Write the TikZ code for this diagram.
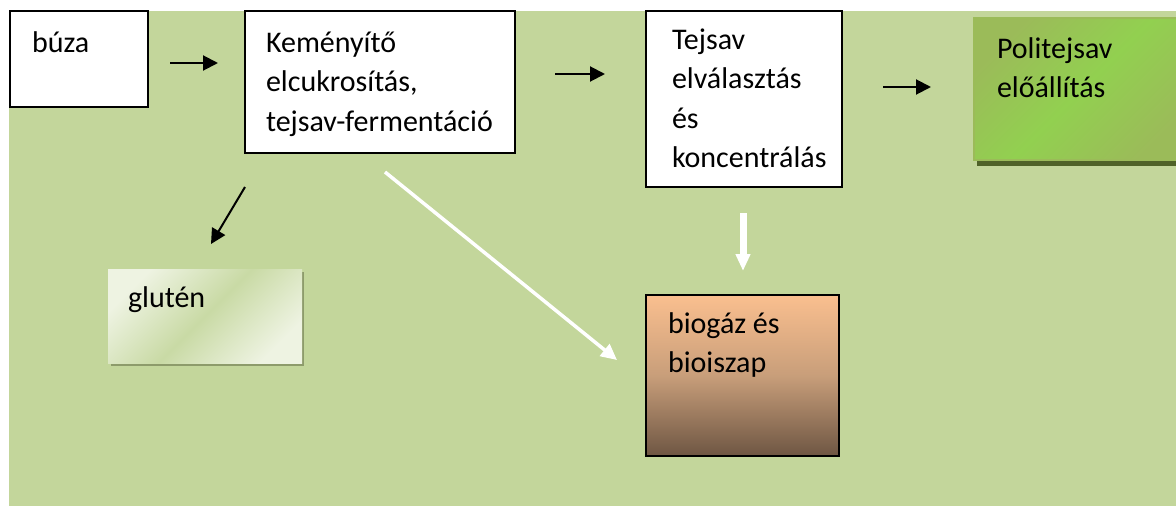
\documentclass[tikz,border=0pt]{standalone}
\usepackage{fontspec}
\setmainfont{Carlito}
\usetikzlibrary{arrows.meta}
\definecolor{bg}{HTML}{C3D69B}
\definecolor{olivec}{HTML}{9BBB59}
\definecolor{brightg}{HTML}{92D050}
\definecolor{shadowdark}{HTML}{4F6228}
\definecolor{gshadow}{HTML}{8D9B6B}
\definecolor{glutlight}{HTML}{EEF3E2}
\definecolor{glutmid}{HTML}{C9DAA5}
\definecolor{biotop}{HTML}{FABF8F}
\definecolor{biomid}{HTML}{C89E7A}
\definecolor{biobot}{HTML}{6E5643}
\newcommand{\boxtxt}[5]{\parbox[t][#2][t]{#1}{\raggedright\leftskip=#3\relax\rule{0pt}{#4}#5}}
\tikzset{
  box/.style={draw=black, line width=1.5pt, fill=white, inner sep=0pt, outer sep=0pt,
    anchor=north west, font=\fontsize{30}{39.5}\selectfont},
  arr/.style={line width=2pt, -{Triangle[length=15pt,width=15pt]}},
  warr/.style={white, line width=3.5pt, -{Triangle[length=16pt,width=15pt]}},
  wfat/.style={white, line width=7pt, -{Triangle[length=17pt,width=14pt]}}
}
\begin{document}
\begin{tikzpicture}[x=1pt,y=-1pt]
\useasboundingbox (0,0) rectangle (1176,506);
\clip (0,0) rectangle (1176,506);
\fill[white] (0,0) rectangle (1176,506);
\fill[bg] (9,11) rectangle (1176,506);
% boxes
\node[box] (buza) at (10,11) {\boxtxt{138pt}{96pt}{22pt}{41pt}{búza}};
\node[box] (kem) at (245,11) {\boxtxt{270pt}{142pt}{21pt}{41pt}{Keményítő\\elcukrosítás,\\tejsav-fermentáció}};
\node[box] (tej) at (646,11) {\boxtxt{196pt}{176pt}{26pt}{38pt}{Tejsav\\elválasztás\\és\\koncentrálás}};
\fill[shadowdark] (977,24) rectangle (1190,166);
\node[box, draw=olivec, left color=olivec, right color=olivec, middle color=brightg, shading angle=45] (poli) at (974,18) {\boxtxt{216pt}{142pt}{23pt}{40pt}{Politejsav\\előállítás}};
\fill[gshadow] (111,272) rectangle (304,366);
\node[box, draw=none, left color=glutlight, right color=glutlight, middle color=glutmid, shading angle=45] (glut) at (108,269) {\boxtxt{194pt}{94pt}{20pt}{38pt}{glutén}};
\node[box, top color=biotop, bottom color=biobot, middle color=biomid] (bio) at (646,295) {\boxtxt{193pt}{161pt}{22pt}{38pt}{biogáz és\\bioiszap}};
% arrow end points
\coordinate (a1s) at (170,63);  \coordinate (a1e) at (218,63);
\coordinate (a2s) at (555,74);  \coordinate (a2e) at (605,74);
\coordinate (a3s) at (883,87);  \coordinate (a3e) at (931,87);
\coordinate (a4s) at (245,187); \coordinate (a4e) at (211,244);
\coordinate (a5s) at (743,213); \coordinate (a5e) at (743,271);
\coordinate (a6s) at (385,172); \coordinate (a6e) at (617,360);
\draw[arr] (a1s) -- (a1e);
\draw[arr] (a2s) -- (a2e);
\draw[arr] (a3s) -- (a3e);
\draw[arr] (a4s) -- (a4e);
\draw[wfat] (a5s) -- (a5e);
\draw[warr] (a6s) -- (a6e);
\end{tikzpicture}
\end{document}
